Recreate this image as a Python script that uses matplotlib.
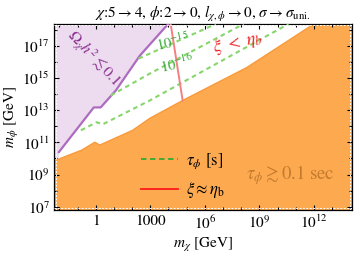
import matplotlib
matplotlib.use('Agg')
import matplotlib.pyplot as plt
from matplotlib.lines import Line2D
from matplotlib.ticker import FixedLocator, NullFormatter
import numpy as np

plt.rcParams['font.family'] = 'STIXGeneral'
plt.rcParams['mathtext.fontset'] = 'stix'

# all values are log10 of GeV
xMin, xMax = -2.3, 14.1
yMin, yMax = 6.8, 18.35

# tau_phi >~ 0.1 sec boundary (orange region below it)
orangeX = [-2.31, -0.77, -0.05, 0.22, 2.03, 2.97, 4.78, 8.30, 12.0]
orangeY = [9.84, 10.52, 11.01, 10.83, 11.75, 12.49, 13.60, 15.64, 18.35]

# Omega h^2 <~ 0.1 boundary (purple region on the left)
relicX = [-2.03, -0.11, 0.27, 1.10, 2.42, 3.79, 4.0]
relicY = [10.40, 13.17, 13.17, 14.22, 16.38, 18.11, 18.35]

# lifetime contours tau_phi [s]
tau15X = [2.35, 6.6]
tau15Y = [16.2, 18.35]
tau16X = [0.82, 2.97, 8.13]
tau16Y = [13.91, 15.27, 18.35]
tau17X = [-0.82, 0.05, 0.38, 2.97, 10.6]
tau17Y = [11.75, 12.25, 12.12, 13.60, 18.35]

# xi ~ eta_b line
xiX = [4.12, 4.78]
xiY = [18.36, 13.60]

xMajor = [0, 3, 6, 9, 12]
xLabels = ['1', '1000', r'$10^{6}$', r'$10^{9}$', r'$10^{12}$']
yMajor = [7, 9, 11, 13, 15, 17]
yLabels = [r'$10^{%d}$' % v for v in yMajor]


def p(v):
    return 10. ** np.asarray(v, dtype=float)


fig = plt.figure(figsize=(3.61, 2.57), dpi=100)
ax = fig.add_axes([54 / 361., 1 - 210 / 257., 298 / 361., 186 / 257.])
ax.set_xscale('log')
ax.set_yscale('log')

# orange region
ox = list(orangeX) + [xMax, xMax, xMin]
oy = list(orangeY) + [yMax, yMin, yMin]
ax.fill(p(ox), p(oy), color='#fda950', lw=0, zorder=1)
ax.plot(p(orangeX), p(orangeY), color='#f99a3a', lw=1.0, zorder=2)

# purple region
yAtStart = np.interp(relicX[0], orangeX, orangeY)
px_ = [xMin, xMin, relicX[-1]] + relicX[::-1] + [relicX[0]]
py_ = [orangeY[0], yMax, yMax] + relicY[::-1] + [yAtStart]
ax.fill(p(px_), p(py_), color='#eddcf0', lw=0, zorder=1)
ax.plot(p(relicX), p(relicY), color='#ad6cbf', lw=1.6, zorder=3)

for xs, ys in [(tau15X, tau15Y), (tau16X, tau16Y), (tau17X, tau17Y)]:
    ax.plot(p(xs), p(ys), color='#86d66a', lw=1.5,
            ls=(0, (2.2, 1.8)), zorder=3)

ax.plot(p(xiX), p(xiY), color='#f48080', lw=1.4, zorder=3)

# white dashed border of the filled regions
for xs, ys in [([0, 1], [0.012, 0.012]), ([0.992, 0.992], [0, 1]),
               ([0.006, 0.006], [0, 1]), ([0, 1], [0.992, 0.992])]:
    ax.plot(xs, ys, transform=ax.transAxes, color='white', lw=0.7,
            ls=(0, (2, 1.5)), zorder=4)

ax.text(p(-0.11), p(16.2), r'$\Omega_\chi h^2 \lesssim 0.1$', color='#8a2f8e',
        fontsize=11.5, rotation=-47, ha='center', va='center', zorder=5)
ax.text(p(4.23), p(17.25), r'$10^{-15}$', color='#3aa83a', fontsize=10.5,
        rotation=12, ha='center', va='center', zorder=5)
ax.text(p(4.45), p(15.89), r'$10^{-16}$', color='#3aa83a', fontsize=10.5,
        rotation=12, ha='center', va='center', zorder=5)
ax.text(p(7.8), p(17.19), r'$\xi\ <\ \eta_b$', color='#ee2222', fontsize=13,
        rotation=12, ha='center', va='center', zorder=5)
ax.text(p(10.71), p(8.98), r'$\tau_\phi \gtrsim 0.1$ sec', color='#c47a2c',
        fontsize=13.5, ha='center', va='center', zorder=5)

handles = [Line2D([], [], color='#33aa33', lw=1.3, ls=(0, (3, 2))),
           Line2D([], [], color='#ff1a1a', lw=1.3)]
ax.legend(handles, [r'$\tau_\phi$ [s]', r'$\xi \approx \eta_{\rm b}$'],
          loc='center left', bbox_to_anchor=(141 / 361., 1 - 176 / 257.),
          bbox_transform=fig.transFigure, frameon=False, fontsize=12,
          handlelength=2.2, handletextpad=0.5, labelspacing=0.55,
          borderpad=0, borderaxespad=0)

ax.set_xlim(p(xMin), p(xMax))
ax.set_ylim(p(yMin), p(yMax))
ax.xaxis.set_major_locator(FixedLocator(p(xMajor)))
ax.xaxis.set_ticklabels(xLabels)
ax.xaxis.set_minor_locator(FixedLocator(p(np.arange(-2, 15))))
ax.xaxis.set_minor_formatter(NullFormatter())
ax.yaxis.set_major_locator(FixedLocator(p(yMajor)))
ax.yaxis.set_ticklabels(yLabels)
ax.yaxis.set_minor_locator(FixedLocator(p(np.arange(7, 19))))
ax.yaxis.set_minor_formatter(NullFormatter())
ax.tick_params(which='both', direction='in', top=True, right=True,
               labelsize=11, width=0.8, pad=3)
ax.tick_params(which='major', length=3.5)
ax.tick_params(which='minor', length=2)
for s in ax.spines.values():
    s.set_linewidth(0.9)

ax.set_xlabel(r'$m_\chi$ [GeV]', fontsize=11, labelpad=3)
ax.set_ylabel(r'$m_\phi$ [GeV]', fontsize=11, labelpad=1)
ax.set_title(r'$\chi$:5$\rightarrow$4, $\phi$:2$\rightarrow$0, '
             r'$l_{\chi,\phi}$$\rightarrow$0, $\sigma$$\rightarrow$$\sigma_{\rm uni.}$',
             fontsize=11, pad=4)

fig.savefig('out.png', dpi=100)
